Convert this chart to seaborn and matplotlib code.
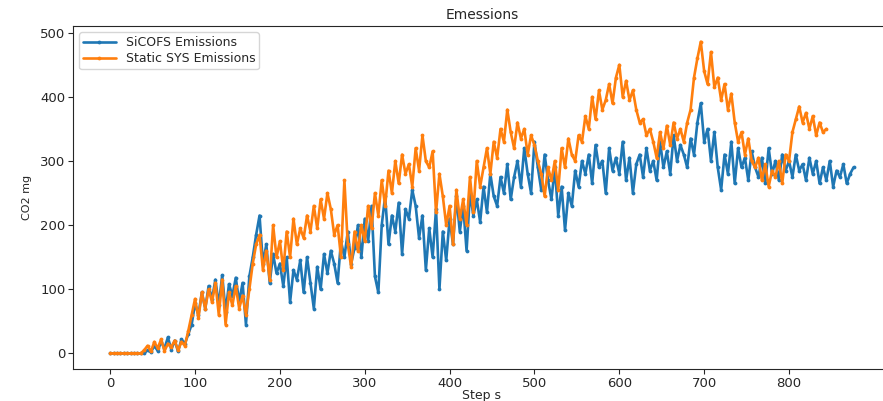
import matplotlib
matplotlib.use("Agg")
import matplotlib.pyplot as plt
import seaborn as sns
import numpy as np
import pandas as pd

# readings taken every 4 steps
step_every = 4

sicofs = [
    0, 0, 0, 0, 0, 0, 0, 0, 0, 0,
    0, 5, 2, 12, 4, 18, 8, 25, 6, 20,
    3, 22, 15, 30, 45, 78, 60, 95, 70, 105,
    85, 115, 75, 122, 65, 108, 90, 118, 80, 110,
    45, 120, 150, 185, 215, 140, 170, 110, 155, 125,
    140, 105, 150, 80, 130, 115, 145, 95, 150, 110,
    70, 135, 100, 155, 125, 160, 140, 110, 175, 150,
    190, 140, 165, 200, 150, 210, 175, 230, 120, 95,
    200, 245, 170, 215, 190, 235, 155, 225, 210, 255,
    230, 180, 215, 130, 195, 150, 225, 100, 190, 145,
    210, 170, 245, 190, 230, 160, 250, 215, 240, 205,
    260, 220, 280, 245, 230, 275, 250, 295, 240, 275,
    300, 260, 320, 280, 250, 330, 290, 255, 310, 270,
    240, 290, 215, 260, 192, 250, 230, 285, 260, 300,
    280, 310, 265, 325, 290, 300, 250, 320, 285, 305,
    280, 330, 270, 305, 250, 295, 310, 275, 320, 285,
    300, 270, 330, 290, 315, 280, 340, 300, 325, 310,
    290, 335, 310, 360, 390, 330, 350, 300, 345, 290,
    255, 310, 280, 330, 265, 320, 290, 305, 270, 315,
    290, 275, 305, 265, 320, 280, 300, 270, 310, 285,
    300, 275, 310, 285, 295, 270, 305, 280, 300, 265,
    290, 270, 300, 260, 285, 275, 295, 265, 280, 290,
]

static_sys = [
    0, 0, 0, 0, 0, 0, 0, 0, 0, 0,
    5, 12, 3, 18, 8, 22, 4, 15, 10, 20,
    5, 18, 12, 35, 60, 85, 55, 95, 70, 100,
    80, 110, 60, 115, 45, 95, 75, 105, 70, 90,
    60, 100, 140, 170, 185, 130, 160, 115, 200, 150,
    175, 130, 190, 150, 210, 170, 195, 180, 215, 190,
    230, 195, 240, 210, 250, 225, 185, 200, 150, 270,
    170, 135, 190, 160, 200, 175, 230, 195, 250, 215,
    270, 230, 285, 250, 300, 265, 310, 280, 295, 260,
    320, 285, 340, 300, 290, 315, 220, 280, 245, 200,
    230, 170, 255, 210, 240, 200, 275, 220, 300, 260,
    290, 320, 280, 330, 305, 350, 330, 380, 345, 320,
    360, 335, 350, 310, 340, 325, 300, 280, 245, 290,
    270, 300, 255, 320, 290, 335, 310, 300, 340, 330,
    370, 350, 400, 365, 410, 380, 395, 420, 390, 430,
    450, 400, 425, 395, 410, 380, 360, 365, 340, 350,
    330, 305, 345, 320, 355, 325, 360, 335, 350, 330,
    360, 380, 430, 460, 486, 440, 420, 470, 415, 430,
    395, 420, 380, 405, 360, 330, 345, 310, 335, 300,
    290, 305, 270, 295, 260, 285, 275, 300, 265, 310,
    300, 345, 365, 385, 360, 375, 350, 370, 340, 360,
    345, 350,
]

sns.set_style("ticks")
plt.rcParams['font.family'] = ['DejaVu Sans']

fig = plt.figure(figsize=(8.83, 4.01), dpi=100)
ax = fig.add_axes([0.0827, 0.0798, 0.926, 0.855])

df1 = pd.DataFrame({'step': np.arange(len(sicofs)) * step_every, 'co2': sicofs})
df2 = pd.DataFrame({'step': np.arange(len(static_sys)) * step_every, 'co2': static_sys})

sns.lineplot(data=df1, x='step', y='co2', ax=ax, color='#1f77b4', lw=1.9,
             marker='.', markersize=5.5, markeredgewidth=0, label='SiCOFS Emissions')
sns.lineplot(data=df2, x='step', y='co2', ax=ax, color='#ff7f0e', lw=1.9,
             marker='.', markersize=5.5, markeredgewidth=0, label='Static SYS Emissions')

ax.set_title('Emessions', fontsize=10, pad=5)
ax.set_xlabel('Step s', fontsize=9)
ax.xaxis.set_label_coords(0.5, -0.058)
ax.set_ylabel('CO2 mg', fontsize=8, labelpad=6)
ax.set_xticks([0, 100, 200, 300, 400, 500, 600, 700, 800])
ax.set_yticks([0, 100, 200, 300, 400, 500])
ax.tick_params(labelsize=9.5, pad=2, length=3.5)
ax.legend(loc='upper left', fontsize=9, frameon=True, labelspacing=0.25,
          borderpad=0.3, handlelength=2.6, borderaxespad=0.5)

fig.savefig('out.png', dpi=100)
